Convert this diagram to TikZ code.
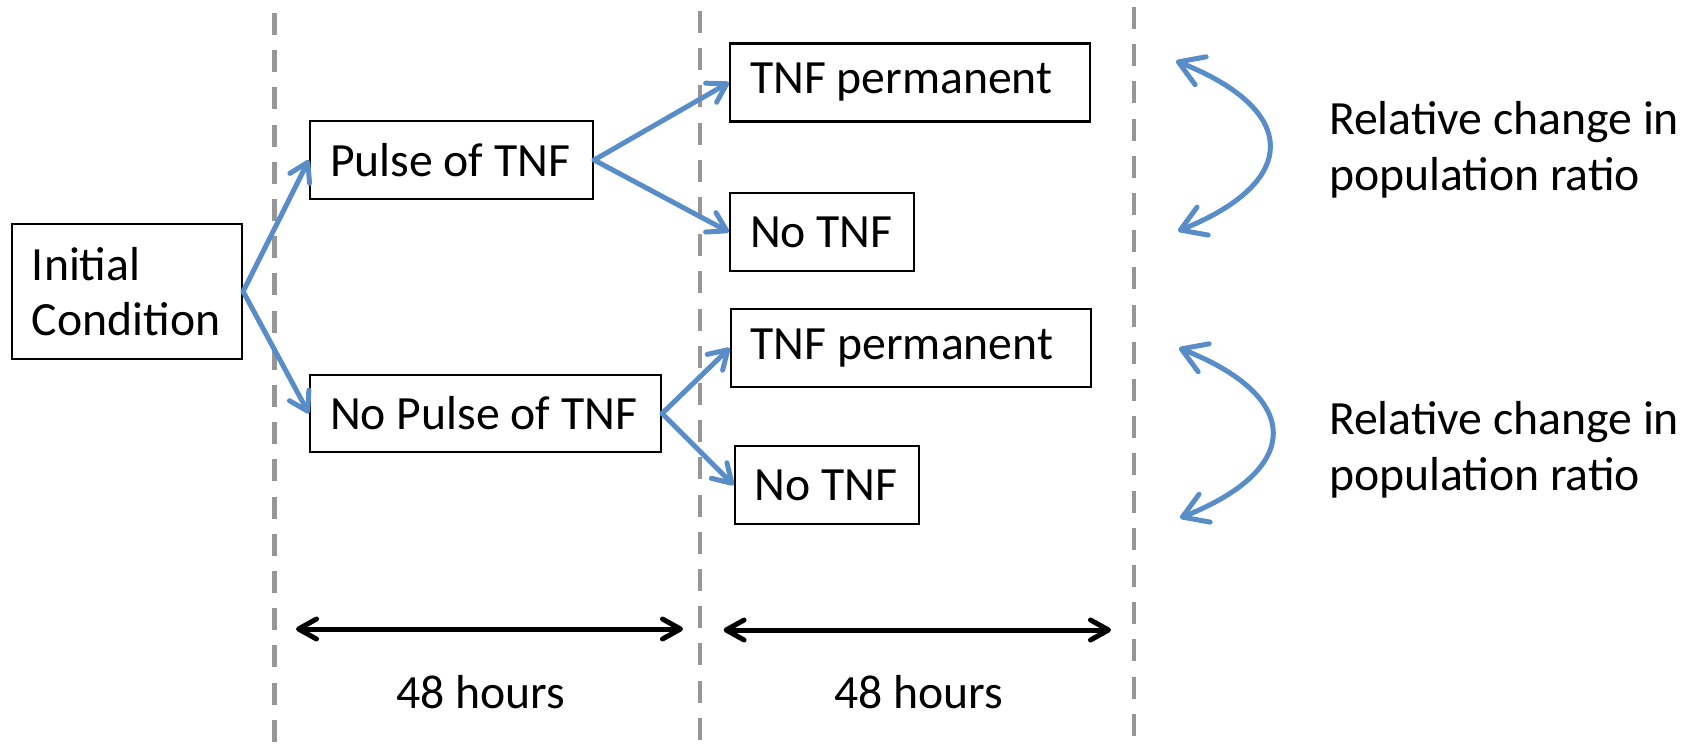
\documentclass[tikz,border=0pt]{standalone}
\usepackage{fontspec}
\setmainfont{Carlito}
\usetikzlibrary{arrows.meta}
\definecolor{tblue}{RGB}{88,141,200}
\definecolor{dgray}{RGB}{150,150,150}
\newcommand{\lftbox}[2]{\makebox[#1][l]{#2}}
\begin{document}
\begin{tikzpicture}[x=0.5pt,y=-0.5pt,
  txt/.style={font=\fontsize{23.85}{27.8}\selectfont},
  box/.style={txt, draw=black, line width=1.1pt, fill=white, inner xsep=10pt, inner ysep=0pt, align=left},
  lbl/.style={txt, inner sep=0pt, align=left},
  flow/.style={draw=tblue, line width=2.5pt, line cap=round, -{Straight Barb[round,length=9pt,width=11pt]}},
  swing/.style={draw=tblue, line width=2.5pt, {Straight Barb[round,length=12pt,width=15pt]}-{Straight Barb[round,length=12pt,width=15pt]}},
  span/.style={draw=black, line width=2.5pt, {Straight Barb[round,length=9pt,width=10pt]}-{Straight Barb[round,length=9pt,width=10pt]}},
  divider/.style={draw=dgray, line width=2.4pt, dash pattern=on 11pt off 7.6pt},
]
\useasboundingbox (0,0) rectangle (1693,746);

% dashed dividers
\coordinate (d1t) at (274.5,13);  \coordinate (d1b) at (274.5,746);
\coordinate (d2t) at (700,11);    \coordinate (d2b) at (700,746);
\coordinate (d3t) at (1134,7);    \coordinate (d3b) at (1134,746);
\draw[divider] (d1t) -- (d1b);
\draw[divider] (d2t) -- (d2b);
\draw[divider] (d3t) -- (d3b);

% boxes
\node[box, minimum height=67.5pt] (init) at (127,291.5) {\lftbox{95pt}{Initial}\\\lftbox{95pt}{Condition}};
\node[box, minimum height=39pt] (pulse) at (451.5,160) {\lftbox{121.5pt}{Pulse of TNF}};
\node[box, minimum height=38.5pt] (nopulse) at (485.5,413.5) {\lftbox{155.5pt}{No Pulse of TNF}};
\node[box, minimum height=39pt] (perm1) at (910,82.5) {\lftbox{160pt}{TNF permanent}};
\node[box, minimum height=39pt] (no1) at (822,232) {\lftbox{72pt}{No TNF}};
\node[box, minimum height=39pt] (perm2) at (911,348) {\lftbox{160.25pt}{TNF permanent}};
\node[box, minimum height=39pt] (no2) at (827,485) {\lftbox{72.25pt}{No TNF}};

% tree connectors
\draw[flow] (init.east) -- (pulse.west);
\draw[flow] (init.east) -- (nopulse.west);
\draw[flow] (pulse.east) -- (perm1.west);
\draw[flow] (pulse.east) -- (no1.west);
\draw[flow] (nopulse.east) -- (perm2.west);
\draw[flow] (nopulse.east) -- (no2.west);

% curved comparison arrows
\coordinate (c1a) at (1176,61);  \coordinate (c1b) at (1178,231);
\coordinate (c2a) at (1179,348); \coordinate (c2b) at (1180,518);
\draw[swing] (c1a) .. controls (1300,110) and (1300,182) .. (c1b);
\draw[swing] (c2a) .. controls (1303,397) and (1303,469) .. (c2b);

% labels
\node[lbl, anchor=west] (rel1) at (1328.6,150) {Relative change in\\population ratio};
\node[lbl, anchor=west] (rel2) at (1328.6,450) {Relative change in\\population ratio};

% time spans
\coordinate (s1a) at (296,629);   \coordinate (s1b) at (683,629);
\coordinate (s2a) at (723.6,630); \coordinate (s2b) at (1111,630);
\draw[span] (s1a) -- (s1b);
\draw[span] (s2a) -- (s2b);
\node[lbl] (h1) at (481,692) {48 hours};
\node[lbl] (h2) at (919,692) {48 hours};
\end{tikzpicture}
\end{document}
